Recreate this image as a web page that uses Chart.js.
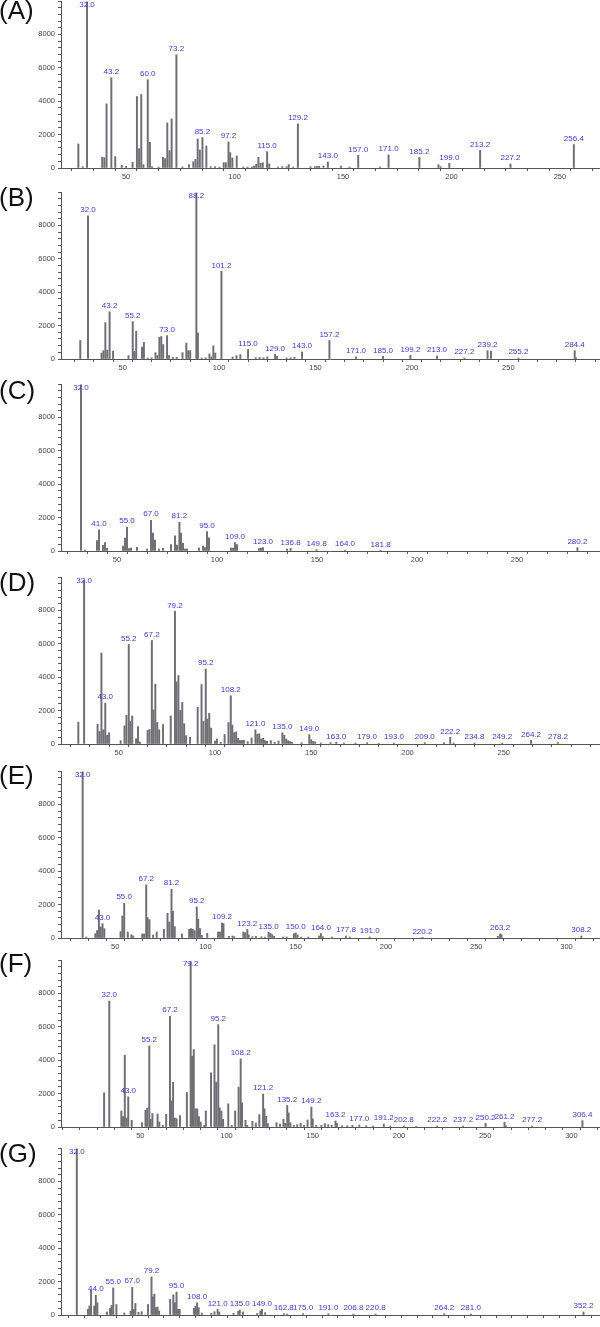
<!DOCTYPE html>
<html>
<head>
<meta charset="utf-8">
<script src="https://cdn.jsdelivr.net/npm/chart.js@4.4.0/dist/chart.umd.min.js"></script>
<style>
  body { margin: 0; background: #fff; width: 600px; height: 1327px; overflow: hidden; position: relative; }
  canvas { position: absolute; left: 0; }
  .tag { position: absolute; left: -1px; font: 26px "Liberation Sans", Arial, sans-serif; line-height: 1; color: #111; }
</style>
</head>
<body>
<script>
// each spectrum: [m/z, intensity] pairs
const peaksA = [[28,1440],[30,80],[32.0,9950],[39,650],[40,620],[41,3840],[43.2,5400],[45,680],[48,160],[50,100],
  [53,340],[55,4280],[56,1160],[57,4400],[58,200],[60.0,5280],[61,1540],[62,80],[65,60],[67,640],[68,560],[69,2700],
  [70,1040],[71,2940],[73.2,6780],[76,60],[79,200],[81,380],[82,520],[83,1740],[84,1080],[85.2,1820],[87,1320],
  [89,80],[91,80],[93,60],[95,320],[96,320],[97.2,1560],[98,920],[99,600],[101,720],[104,60],[106,60],[108,60],
  [109,120],[110,220],[111,640],[112,280],[113,320],[115.0,980],[116,240],[120,60],[122,80],[124,80],[125,200],
  [127,60],[129.2,2640],[135,80],[137,80],[138,100],[139,100],[141,120],[143.0,360],[149,120],[153,60],[157.0,760],
  [167,60],[171.0,780],[185.2,640],[194,200],[195,80],[199.0,280],[213.2,1060],[227.2,240],[256.4,1400]];
const labelsA = ['32.0','43.2','60.0','73.2','85.2','97.2','115.0','129.2','143.0','157.0','171.0','185.2','199.0','213.2','227.2','256.4'];

const peaksB = [[28,1110],[32.0,8570],[39,360],[40,500],[41,2180],[42,530],[43.2,2830],[45,475],[53,200],[55.2,2240],
  [56,450],[57,1660],[60,720],[61,1000],[63,60],[65,80],[67,380],[68,200],[69,1300],[70,1350],[71,870],[73.0,1400],
  [74,200],[76,100],[78,100],[81,380],[83,950],[84,500],[85,500],[88.2,9950],[89,1560],[91,60],[93,80],[95,300],
  [96,120],[97,790],[98,360],[101.2,5250],[107,120],[109,200],[111,260],[115.0,570],[119,80],[121,100],[123,80],
  [125,120],[129.0,280],[130,160],[135,60],[137,80],[139,100],[143.0,420],[157.2,1110],[171.0,120],[185.0,160],
  [199.2,220],[213.0,180],[227.2,60],[239.2,500],[241,475],[255.2,60],[284.4,500],[285,80]];
const labelsB = ['32.0','43.2','55.2','73.0','88.2','101.2','115.0','129.0','143.0','157.2','171.0','185.0','199.2','213.0','227.2','239.2','255.2','284.4'];

const peaksC = [[32.0,9950],[34,60],[40,630],[41.0,1270],[43,340],[44,510],[45,160],[53,300],[54,770],[55.0,1430],
  [56,140],[57,180],[60,220],[65,120],[67.0,1840],[68,1070],[69,650],[71,120],[73,160],[77,380],[79,910],[80,360],
  [81.2,1720],[82,1070],[83,460],[84,120],[85,120],[91,180],[93,300],[94,200],[95.0,1170],[96,790],[107,180],
  [108,180],[109.0,500],[110,380],[121,140],[122,180],[123.0,200],[135,120],[136.8,160],[149.8,80],[164.0,60],
  [181.8,40],[280.2,200]];
const labelsC = ['32.0','41.0','55.0','67.0','81.2','95.0','109.0','123.0','136.8','149.8','164.0','181.8','280.2'];

const peaksD = [[29,1310],[32.0,9800],[39,1190],[40,750],[41,5450],[42,850],[43.0,2450],[44,530],[45,670],[51,200],
  [53,1090],[54,1720],[55.2,5960],[56,1350],[57,1680],[59,320],[60,1050],[61,120],[65,810],[66,870],[67.2,6200],
  [68,2040],[69,3580],[70,1290],[71,850],[73,1170],[77,1680],[79.2,7940],[80,3720],[81,4100],[82,2020],[83,2490],
  [84,1210],[85,500],[87,400],[91,2200],[93,3560],[94,1350],[95.2,4490],[96,1490],[97,1840],[98,950],[100,180],
  [101,300],[103,100],[105,570],[107,1290],[108.2,2890],[109,1130],[110,690],[111,730],[112,340],[113,200],[114,220],
  [115,220],[117,140],[119,360],[121.0,850],[122,590],[123,610],[124,300],[125,340],[126,200],[127,160],[129,200],
  [131,100],[133,180],[135.0,670],[136,530],[137,300],[138,200],[139,150],[140,100],[145,80],[149.0,560],[150,260],
  [151,160],[152,120],[155,60],[160,80],[163.0,100],[167,60],[173,60],[179.0,80],[185,40],[193.0,60],[209.0,80],
  [219,80],[222.2,400],[224,60],[234.8,60],[249.2,60],[264.2,220],[278.2,80]];
const labelsD = ['32.0','43.0','55.2','67.2','79.2','95.2','108.2','121.0','135.0','149.0','163.0','179.0','193.0','209.0','222.2','234.8','249.2','264.2','278.2'];

const peaksE = [[32.0,9950],[34,60],[39,260],[40,440],[41,1670],[42,660],[43.0,860],[44,560],[53,380],[54,1320],
  [55.0,2080],[57,360],[59,200],[60,120],[65,240],[66,240],[67.2,3180],[68,1220],[69,1100],[71,180],[73,360],[77,520],
  [79,1480],[80,960],[81.2,2920],[82,1600],[83,680],[87,240],[91,520],[92,560],[93,520],[94,440],[95.2,1860],[96,1120],
  [97,560],[98,160],[101,280],[107,360],[108,360],[109.2,900],[110,860],[113,100],[115,120],[116,80],[121,360],
  [122,320],[123.2,520],[124,180],[126,80],[128,100],[131,80],[133,60],[135.0,340],[136,280],[137,200],[138,100],
  [143,60],[145,60],[149,260],[150.0,300],[151,180],[153,60],[157,60],[163,120],[164.0,260],[165,80],[170,60],
  [177.8,120],[180,60],[191.0,60],[220.2,40],[262,100],[263.2,240],[264,200],[308.2,120]];
const labelsE = ['32.0','43.0','55.0','67.2','81.2','95.2','109.2','123.2','135.0','150.0','164.0','177.8','191.0','220.2','263.2','308.2'];

const peaksF = [[29,2050],[32.0,7540],[39,960],[40,620],[41,4300],[42,540],[43.0,1810],[45,400],[51,260],[53,1000],
  [54,1130],[55.2,4850],[56,460],[57,800],[60,780],[61,300],[63,100],[65,760],[67.2,6630],[68,1570],[69,2670],[70,540],
  [71,500],[73,680],[77,2070],[79.2,9900],[80,4240],[81,4640],[82,1090],[83,1090],[84,620],[85,300],[87,100],[88,960],
  [91,3240],[93,4920],[94,2690],[95.2,6130],[96,1150],[97,960],[98,460],[101,1390],[103,100],[105,960],[107,2390],
  [108.2,4080],[109,1450],[111,400],[112,100],[115,340],[117,240],[119,740],[121.2,1970],[122,1090],[123,640],
  [124,200],[129,260],[131,180],[133,460],[134,220],[135.2,1290],[136,840],[137,260],[139,100],[141,140],[143,220],
  [145,100],[147,420],[149.2,1190],[150,480],[152,100],[155,100],[157,200],[159,140],[161,100],[163.2,360],[164,220],
  [167,80],[170,80],[173,100],[177.0,120],[181,80],[185,60],[191.2,180],[195,60],[202.8,60],[210,40],[222.2,60],
  [237.2,60],[250.2,220],[261.2,280],[262,80],[277.2,60],[306.4,380]];
const labelsF = ['32.0','43.0','55.2','67.2','79.2','95.2','108.2','121.2','135.2','149.2','163.2','177.0','191.2','202.8','222.2','237.2','250.2','261.2','277.2','306.4'];

const peaksG = [[32.0,9950],[39,340],[40,540],[41,1490],[43,540],[44.0,1190],[45,730],[51,180],[53,400],[54,570],
  [55.0,1620],[57,630],[62,120],[66,240],[67.0,1660],[68,340],[69,690],[71,160],[73,200],[77,630],[79.2,2280],
  [80,1090],[81,1250],[82,440],[83,480],[84,240],[91,930],[93,1210],[94,730],[95.0,1370],[96,340],[97,340],[106,400],
  [107,530],[108.0,730],[109,440],[111,120],[117,100],[119,200],[121.0,340],[122,180],[131,100],[134,220],[135.0,300],
  [137,180],[146,100],[148,240],[149.0,340],[151,140],[162.8,80],[165,60],[175.0,80],[191.0,80],[206.8,60],[220.8,60],
  [264.2,80],[281.0,60],[352.2,180]];
const labelsG = ['32.0','44.0','55.0','67.0','79.2','95.0','108.0','121.0','135.0','149.0','162.8','175.0','191.0','206.8','220.8','264.2','281.0','352.2'];

const panels = [
  { tag: '(A)', peaks: peaksA, labels: labelsA, min: 20, max: 268,   top: 1,    tagTop: -3 },
  { tag: '(B)', peaks: peaksB, labels: labelsB, min: 18, max: 297,   top: 192,  tagTop: 184 },
  { tag: '(C)', peaks: peaksC, labels: labelsC, min: 22, max: 291,   top: 384,  tagTop: 377 },
  { tag: '(D)', peaks: peaksD, labels: labelsD, min: 20, max: 299.5, top: 577,  tagTop: 569 },
  { tag: '(E)', peaks: peaksE, labels: labelsE, min: 20, max: 318,   top: 771,  tagTop: 762 },
  { tag: '(F)', peaks: peaksF, labels: labelsF, min: 4,  max: 316,   top: 960,  tagTop: 950 },
  { tag: '(G)', peaks: peaksG, labels: labelsG, min: 22, max: 362,   top: 1148, tagTop: 1140 }
];

const FONT = '"Liberation Sans", Arial, sans-serif';
const PAD_TOP = 10, PLOT_H = 167, AXIS_H = 14;

// blue m/z text above the labelled peaks
function labelPlugin(labels) {
  return {
    id: 'peakLabels',
    afterDatasetsDraw(chart) {
      const ctx = chart.ctx;
      const meta = chart.getDatasetMeta(0);
      const pts = chart.data.datasets[0].data;
      ctx.save();
      ctx.font = '8px ' + FONT;
      ctx.fillStyle = '#3a3ac8';
      ctx.textAlign = 'center';
      ctx.textBaseline = 'bottom';
      labels.forEach(t => {
        const v = parseFloat(t);
        let best = 0;
        pts.forEach((p, i) => { if (Math.abs(p.x - v) < Math.abs(pts[best].x - v)) best = i; });
        const el = meta.data[best];
        const y = Math.max(el.y - 2, chart.chartArea.top + 8);
        ctx.fillText(t, el.x, y);
      });
      ctx.restore();
    }
  };
}

panels.forEach(p => {
  const tag = document.createElement('div');
  tag.className = 'tag';
  tag.style.top = p.tagTop + 'px';
  tag.textContent = p.tag;

  const cv = document.createElement('canvas');
  cv.width = 600;
  cv.height = PAD_TOP + PLOT_H + AXIS_H;
  cv.style.top = (p.top - PAD_TOP) + 'px';
  document.body.appendChild(cv);
  document.body.appendChild(tag);

  new Chart(cv, {
    type: 'bar',
    data: {
      datasets: [{
        data: p.peaks.map(([x, y]) => ({ x, y })),
        backgroundColor: '#6e6e74',
        borderWidth: 0,
        barThickness: 1.3
      }]
    },
    options: {
      responsive: false,
      animation: false,
      events: [],
      layout: { padding: { top: PAD_TOP, right: 1, left: 0, bottom: 0 } },
      plugins: { legend: { display: false }, tooltip: { enabled: false } },
      scales: {
        x: {
          type: 'linear',
          min: p.min,
          max: p.max,
          offset: false,
          grid: { drawOnChartArea: false, tickLength: 3, color: '#555' },
          border: { color: '#555' },
          ticks: {
            stepSize: 10, autoSkip: false, maxRotation: 0, includeBounds: false, padding: 1,
            color: '#444', font: { size: 7.5, family: FONT },
            callback: v => (v % 50 === 0 ? String(v) : '')
          },
          afterFit: s => { s.height = AXIS_H; }
        },
        y: {
          min: 0,
          max: 10000,
          grid: { drawOnChartArea: false, tickLength: 3, color: '#555' },
          border: { color: '#555' },
          ticks: {
            stepSize: 400, autoSkip: false, padding: 3,
            color: '#444', font: { size: 7.5, family: FONT },
            callback: v => (v % 2000 === 0 && v < 10000 ? String(v) : '')
          },
          afterFit: s => { s.width = 61; }
        }
      }
    },
    plugins: [labelPlugin(p.labels)]
  });
});
</script>
</body>
</html>
